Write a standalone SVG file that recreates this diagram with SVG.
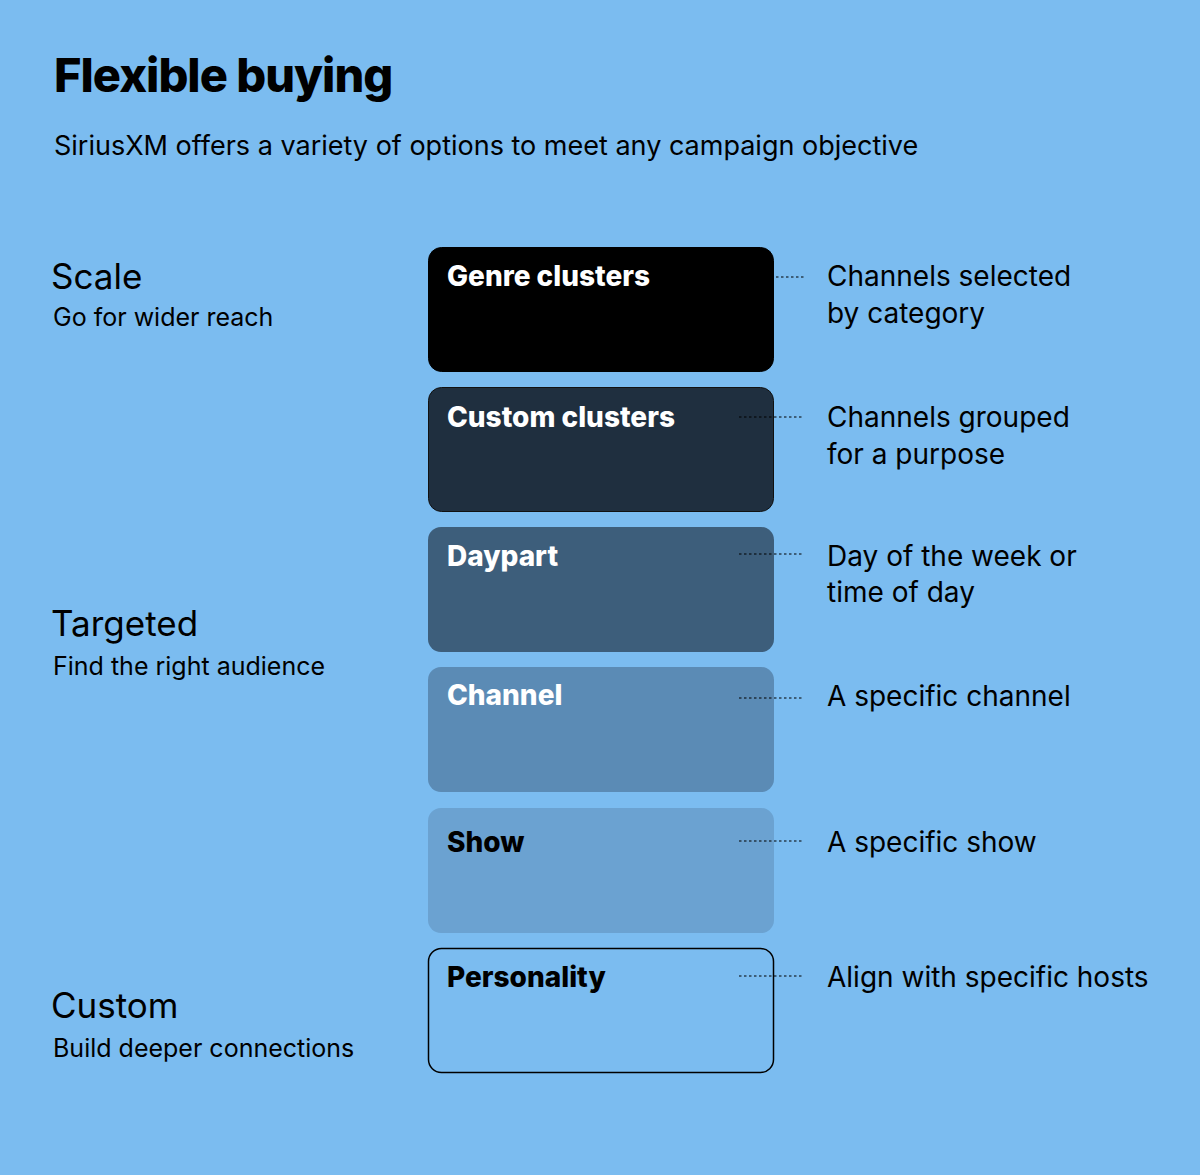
<svg xmlns="http://www.w3.org/2000/svg" width="1200" height="1175" viewBox="0 0 1200 1175">
<style>
text{font-family:"Inter","Liberation Sans",sans-serif;fill:#000}
.t{font-size:47px;font-weight:800;letter-spacing:-1px}
.sub{font-size:27px}
.h{font-size:35px}
.s{font-size:25px}
.b{font-size:28px;font-weight:800}
.w{fill:#fff}
.d{font-size:28px}
.c{stroke:#000;stroke-width:1.2;stroke-dasharray:2.5 2.5;fill:none}
</style>
<rect width="1200" height="1175" fill="#7bbcf0"/>
<text class="t" x="54" y="92">Flexible buying</text>
<text class="sub" x="54" y="155">SiriusXM offers a variety of options to meet any campaign objective</text>
<g id="scale"><text class="h" x="51" y="289">Scale</text><text class="s" x="53" y="326">Go for wider reach</text></g>
<g id="targeted"><text class="h" x="51" y="636">Targeted</text><text class="s" x="53" y="675">Find the right audience</text></g>
<g id="custom"><text class="h" x="51" y="1018">Custom</text><text class="s" x="53" y="1057">Build deeper connections</text></g>
<g id="genre"><rect x="428.5" y="247.5" width="345" height="124" rx="13" fill="#000" stroke="#000"/><text class="b w" x="447" y="286">Genre clusters</text></g>
<g id="customclusters"><rect x="428.5" y="387.5" width="345" height="124" rx="13" fill="#1f2f3f" stroke="#111"/><text class="b w" x="447" y="427">Custom clusters</text></g>
<g id="daypart"><rect x="428" y="527" width="346" height="125" rx="13" fill="#3d5e7b"/><text class="b w" x="447" y="566">Daypart</text></g>
<g id="channel"><rect x="428" y="667" width="346" height="125" rx="13" fill="#5b8bb5"/><text class="b w" x="447" y="705">Channel</text></g>
<g id="show"><rect x="428" y="808" width="346" height="125" rx="13" fill="#6ba2d1"/><text class="b" x="447" y="852">Show</text></g>
<g id="personality"><rect x="428.5" y="948.5" width="345" height="124" rx="13" fill="none" stroke="#000" stroke-width="1.5"/><text class="b" x="447" y="987">Personality</text></g>
<g id="connectors">
<line class="c" x1="776" y1="277" x2="804" y2="277"/>
<line class="c" x1="739" y1="417" x2="804" y2="417"/>
<line class="c" x1="739" y1="554" x2="804" y2="554"/>
<line class="c" x1="739" y1="698" x2="804" y2="698"/>
<line class="c" x1="739" y1="841" x2="804" y2="841"/>
<line class="c" x1="739" y1="976" x2="804" y2="976"/>
</g>
<g id="desc">
<text class="d" x="827" y="286">Channels selected</text><text class="d" x="827" y="323">by category</text>
<text class="d" x="827" y="427">Channels grouped</text><text class="d" x="827" y="464">for a purpose</text>
<text class="d" x="827" y="566">Day of the week or</text><text class="d" x="827" y="602">time of day</text>
<text class="d" x="827" y="706">A specific channel</text>
<text class="d" x="827" y="852">A specific show</text>
<text class="d" x="827" y="987">Align with specific hosts</text>
</g>
</svg>
